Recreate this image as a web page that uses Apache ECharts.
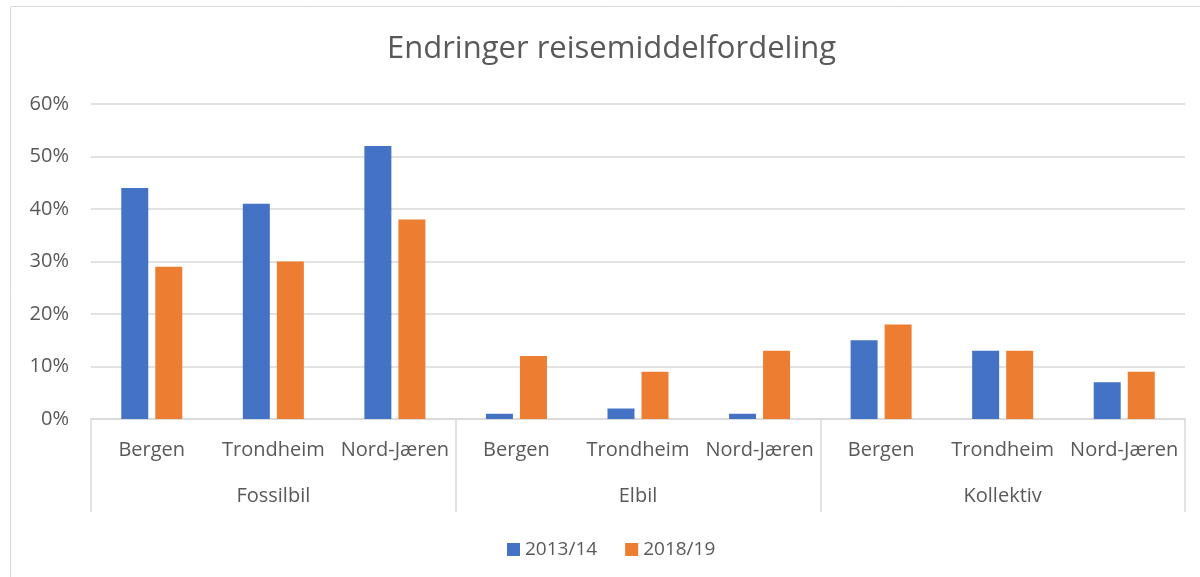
<!DOCTYPE html>
<html>
<head>
<meta charset="utf-8">
<script src="https://cdn.jsdelivr.net/npm/echarts@6/dist/echarts.min.js"></script>
<style>
    html, body { margin: 0; padding: 0; background: #fff; }
    #main { width: 1200px; height: 577px; }
</style>
</head>
<body>
<div id="main"></div>
<script>
    // kategorier
    var cities = ['Bergen', 'Trondheim', 'Nord-Jæren', 'Bergen', 'Trondheim', 'Nord-Jæren', 'Bergen', 'Trondheim', 'Nord-Jæren'];
    var groups = ['Fossilbil', 'Elbil', 'Kollektiv'];
    var seriesNames = ['2013/14', '2018/19'];
    // andeler i prosent
    var v2013 = [44, 41, 52, 1, 2, 1, 15, 13, 7];
    var v2018 = [29, 30, 38, 12, 9, 13, 18, 13, 9];

    var font = 'Open Sans';
    var txt = '#595959';
    var chart = echarts.init(document.getElementById('main'));

    var option = {
        animation: false,
        color: ['#4472c4', '#ed7d31'],
        graphic: [{
            type: 'rect',
            shape: { x: 10.5, y: 6.5, width: 1300, height: 700 },
            style: { fill: 'none', stroke: '#d9d9d9', lineWidth: 1 }
        }],
        title: {
            text: 'Endringer reisemiddelfordeling',
            left: 382,
            top: 29,
            textStyle: { fontFamily: font, fontSize: 31, fontWeight: 'normal', color: txt }
        },
        legend: {
            bottom: 13,
            left: 502,
            icon: 'rect',
            itemWidth: 13,
            itemHeight: 13,
            itemGap: 28,
            textStyle: { fontFamily: font, fontSize: 19, color: txt },
            data: seriesNames
        },
        grid: { left: 91, right: 15, top: 104, bottom: 158 },
        xAxis: [{
            type: 'category',
            data: cities,
            axisLine: { lineStyle: { color: '#d9d9d9', width: 1.5 } },
            axisTick: { show: false },
            axisLabel: { fontFamily: font, fontSize: 20, color: txt, margin: 21, interval: 0 }
        }, {
            type: 'category',
            data: groups,
            position: 'bottom',
            axisLine: { show: false },
            axisTick: { show: true, length: 93, lineStyle: { color: '#d9d9d9', width: 1.5 } },
            axisLabel: { fontFamily: font, fontSize: 20, color: txt, margin: 67 }
        }],
        yAxis: {
            type: 'value',
            min: 0,
            max: 60,
            interval: 10,
            axisLine: { show: false },
            axisTick: { show: false },
            splitLine: { lineStyle: { color: '#d9d9d9', width: 1.5 } },
            axisLabel: {
                fontFamily: font, fontSize: 20, color: txt, margin: 22,
                formatter: function (v) { return v + '%'; }
            }
        },
        series: [{
            name: seriesNames[0],
            type: 'bar',
            xAxisIndex: 0,
            data: v2013,
            barWidth: 27,
            barGap: '26%'
        }, {
            name: seriesNames[1],
            type: 'bar',
            xAxisIndex: 0,
            data: v2018,
            barWidth: 27,
            barGap: '26%'
        }]
    };
    chart.setOption(option);
</script>
</body>
</html>
